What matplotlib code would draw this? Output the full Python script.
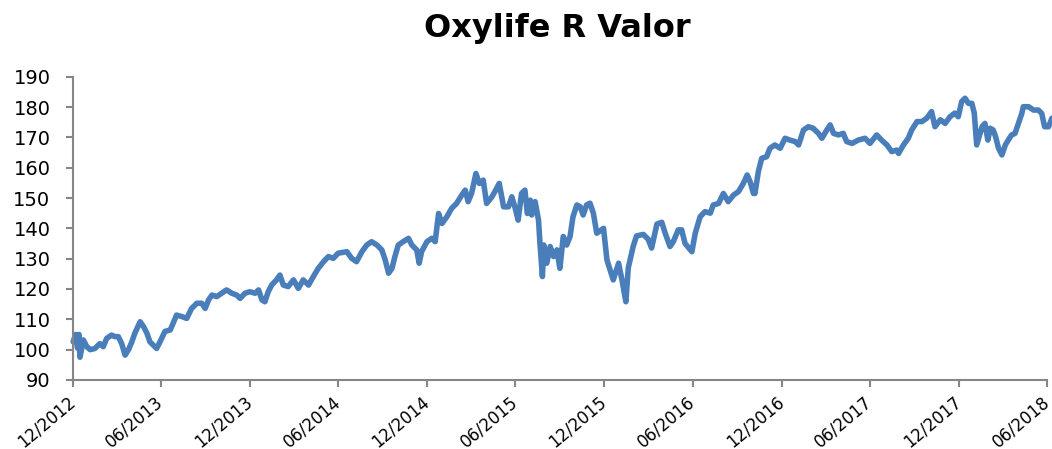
import matplotlib
matplotlib.use("Agg")
import matplotlib.pyplot as plt
import matplotlib.dates as mdates
import pandas as pd

# Fund value (index, start = 100)
dates = [
    "2012-12-02", "2012-12-07", "2012-12-11", "2012-12-14", "2012-12-16", "2012-12-23", "2012-12-30",
    "2013-01-06", "2013-01-16", "2013-01-26", "2013-02-02", "2013-02-09", "2013-02-19", "2013-02-26",
    "2013-03-05", "2013-03-12", "2013-03-19", "2013-03-26", "2013-04-02", "2013-04-08", "2013-04-19",
    "2013-04-26", "2013-05-03", "2013-05-09", "2013-05-16", "2013-05-23", "2013-05-30", "2013-06-09",
    "2013-06-20", "2013-06-26", "2013-07-03", "2013-07-14", "2013-07-24", "2013-08-03", "2013-08-14",
    "2013-08-24", "2013-08-31", "2013-09-07", "2013-09-14", "2013-09-24", "2013-10-04", "2013-10-14",
    "2013-10-25", "2013-11-04", "2013-11-11", "2013-11-21", "2013-12-01", "2013-12-12", "2013-12-19",
    "2013-12-26", "2014-01-01", "2014-01-08", "2014-01-15", "2014-01-25", "2014-02-01", "2014-02-08",
    "2014-02-18", "2014-03-01", "2014-03-11", "2014-03-21", "2014-04-01", "2014-04-11", "2014-04-21",
    "2014-05-02", "2014-05-12", "2014-05-22", "2014-06-01", "2014-06-19", "2014-06-29", "2014-07-09",
    "2014-07-20", "2014-07-30", "2014-08-09", "2014-08-20", "2014-08-30", "2014-09-06", "2014-09-13",
    "2014-09-20", "2014-09-26", "2014-10-03", "2014-10-13", "2014-10-24", "2014-10-31", "2014-11-10",
    "2014-11-15", "2014-11-20", "2014-12-01", "2014-12-11", "2014-12-18", "2014-12-25", "2015-01-01",
    "2015-01-11", "2015-01-21", "2015-01-31", "2015-02-11", "2015-02-18", "2015-02-24", "2015-03-03",
    "2015-03-12", "2015-03-19", "2015-03-27", "2015-04-03", "2015-04-14", "2015-04-20", "2015-04-29",
    "2015-05-08", "2015-05-18", "2015-05-25", "2015-06-01", "2015-06-07", "2015-06-14", "2015-06-21",
    "2015-06-26", "2015-07-02", "2015-07-05", "2015-07-12", "2015-07-19", "2015-07-22", "2015-07-27",
    "2015-07-30", "2015-08-05", "2015-08-12", "2015-08-19", "2015-08-26", "2015-09-01", "2015-09-08",
    "2015-09-15", "2015-09-22", "2015-09-28", "2015-10-06", "2015-10-13", "2015-10-19", "2015-10-26",
    "2015-11-02", "2015-11-09", "2015-11-16", "2015-11-30", "2015-12-07", "2015-12-20", "2015-12-31",
    "2016-01-07", "2016-01-15", "2016-01-20", "2016-01-30", "2016-02-06", "2016-02-20", "2016-03-01",
    "2016-03-08", "2016-03-19", "2016-03-29", "2016-04-05", "2016-04-15", "2016-04-22", "2016-05-02",
    "2016-05-09", "2016-05-16", "2016-05-30", "2016-06-06", "2016-06-16", "2016-06-26", "2016-07-07",
    "2016-07-13", "2016-07-24", "2016-08-03", "2016-08-13", "2016-08-24", "2016-09-03", "2016-09-13",
    "2016-09-21", "2016-09-27", "2016-10-04", "2016-10-07", "2016-10-14", "2016-10-21", "2016-10-31",
    "2016-11-07", "2016-11-17", "2016-11-28", "2016-12-08", "2016-12-18", "2016-12-29", "2017-01-05",
    "2017-01-15", "2017-01-25", "2017-02-04", "2017-02-15", "2017-02-22", "2017-03-04", "2017-03-11",
    "2017-03-18", "2017-03-28", "2017-04-07", "2017-04-14", "2017-04-25", "2017-05-08", "2017-05-22",
    "2017-06-01", "2017-06-15", "2017-06-25", "2017-07-06", "2017-07-16", "2017-07-26", "2017-07-30",
    "2017-08-09", "2017-08-19", "2017-08-26", "2017-09-06", "2017-09-16", "2017-09-26", "2017-10-06",
    "2017-10-13", "2017-10-24", "2017-11-03", "2017-11-13", "2017-11-23", "2017-11-30", "2017-12-07",
    "2017-12-14", "2017-12-21", "2017-12-28", "2018-01-02", "2018-01-07", "2018-01-18", "2018-01-24",
    "2018-01-30", "2018-02-04", "2018-02-10", "2018-02-15", "2018-02-21", "2018-02-28", "2018-03-07",
    "2018-03-13", "2018-03-20", "2018-03-27", "2018-04-03", "2018-04-10", "2018-04-13", "2018-04-24",
    "2018-05-04", "2018-05-14", "2018-05-21", "2018-05-27", "2018-06-04", "2018-06-11",
]
values = [
    102.6, 105.0, 100.5, 105.0, 97.5, 103.2, 101.0,
    100.0, 100.4, 102.0, 101.0, 103.7, 104.8, 104.3,
    104.3, 102.0, 98.2, 100.0, 102.6, 105.4, 109.2,
    107.6, 105.4, 102.6, 101.5, 100.4, 102.6, 106.0,
    106.5, 108.7, 111.4, 110.9, 110.3, 113.6, 115.3,
    115.3, 113.6, 116.4, 118.0, 117.5, 118.6, 119.7,
    118.6, 118.0, 116.9, 118.6, 119.1, 118.6, 119.7,
    116.4, 115.8, 119.1, 121.3, 123.0, 124.6, 121.3,
    120.8, 123.0, 120.2, 123.0, 121.3, 124.1, 126.8,
    129.0, 130.7, 130.1, 131.8, 132.3, 130.1, 129.0,
    132.3, 134.5, 135.6, 134.5, 132.9, 129.6, 125.2,
    126.8, 130.7, 134.5, 135.6, 136.7, 134.5, 132.9,
    128.5, 132.3, 135.6, 136.7, 135.6, 144.9, 141.6,
    143.8, 146.6, 148.2, 151.0, 152.6, 148.8, 151.5,
    158.1, 154.8, 155.9, 148.2, 150.4, 152.1, 154.8,
    147.1, 147.1, 150.4, 146.6, 142.7, 151.5, 152.6,
    144.9, 149.3, 144.4, 148.8, 142.7, 135.0, 124.1,
    134.5, 128.5, 134.0, 130.7, 132.9, 126.8, 137.3,
    134.5, 137.3, 143.8, 147.7, 147.1, 144.4, 147.7,
    148.3, 145.0, 138.4, 140.0, 129.6, 123.0, 128.5,
    123.0, 115.8, 127.0, 134.0, 137.5, 138.0, 136.4,
    133.5, 141.4, 142.0, 138.4, 134.0, 135.7, 139.5,
    139.5, 135.0, 132.3, 138.4, 143.8, 145.5, 145.0,
    147.7, 148.2, 151.5, 148.8, 151.0, 152.1, 154.8,
    157.6, 155.4, 151.5, 151.5, 158.7, 163.1, 163.6,
    166.4, 167.5, 166.4, 169.7, 169.1, 168.6, 167.5,
    172.4, 173.5, 173.0, 171.3, 169.7, 172.4, 174.1,
    171.3, 170.8, 171.3, 168.6, 168.0, 169.1, 169.7,
    168.0, 170.8, 169.1, 167.5, 165.3, 165.8, 164.7,
    167.5, 169.7, 172.4, 175.2, 175.2, 176.3, 178.5,
    173.5, 175.8, 174.6, 176.8, 178.0, 176.8, 181.8,
    182.9, 181.2, 181.2, 178.0, 167.5, 173.5, 174.6,
    169.1, 173.0, 172.4, 170.2, 166.4, 164.2, 167.5,
    169.1, 170.8, 171.3, 174.6, 177.9, 180.1, 180.1,
    179.0, 179.0, 177.9, 173.5, 173.5, 176.3,
]

tick_dates = pd.date_range("2012-12-01", "2018-06-01", freq="6MS")

x = pd.to_datetime(dates)

fig = plt.figure(figsize=(10.52, 4.49), dpi=100)
ax = fig.add_axes([0.0691, 0.1537, 0.9262, 0.6755])

ax.plot(x, values, color="#4a7ebb", linewidth=4.0,
        solid_joinstyle="round", solid_capstyle="round", clip_on=False)

ax.set_xlim(tick_dates[0], tick_dates[-1])
ax.set_ylim(90, 190)
ax.set_yticks(range(90, 191, 10))
ax.set_xticks(tick_dates)
ax.xaxis.set_major_formatter(mdates.DateFormatter("%m/%Y"))

for s in ["top", "right"]:
    ax.spines[s].set_visible(False)
for s in ["left", "bottom"]:
    ax.spines[s].set_color("#868686")
    ax.spines[s].set_linewidth(1.5)

ax.tick_params(axis="both", colors="#868686", width=1.5, length=5, direction="out")
ax.tick_params(axis="y", labelcolor="black", labelsize=14, pad=11)
ax.tick_params(axis="x", labelcolor="black", labelsize=12, pad=9)
for lbl in ax.get_xticklabels():
    lbl.set_rotation(40)
    lbl.set_rotation_mode("anchor")
    lbl.set_ha("right")
    lbl.set_va("center")

fig.text(0.53, 1 - 28 / 449, "Oxylife R Valor", ha="center", va="center",
         fontsize=23, fontweight="bold")

fig.savefig("out.png", dpi=100)
